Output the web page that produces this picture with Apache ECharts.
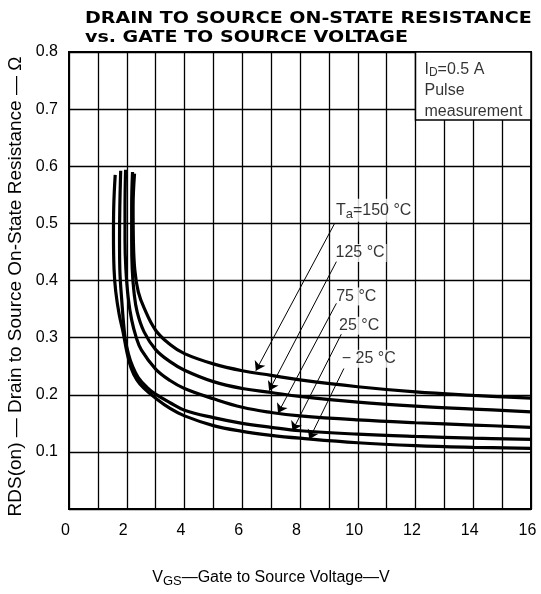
<!DOCTYPE html>
<html><head><meta charset="utf-8">
<script src="https://cdn.jsdelivr.net/npm/echarts@6/dist/echarts.min.js"></script>
<style>html,body{margin:0;padding:0;background:#fff}#c{width:541px;height:594px}</style>
</head><body><div id="c"></div>
<script>
// Curves: [VGS (V), RDS(on) (ohm)]
const curveNeg25 = [[1.60,0.585],[1.55,0.53],[1.54,0.48],[1.56,0.42],[1.62,0.38],[1.74,0.34],[1.88,0.308],[2.0,0.276],[2.15,0.247],[2.35,0.226],[2.6,0.211],[3,0.194],[3.5,0.176],[4,0.163],[5,0.146],[6,0.136],[7,0.129],[8,0.124],[10,0.116],[12,0.111],[14,0.108],[16,0.106]];
const curve25 = [[1.79,0.592],[1.76,0.53],[1.75,0.47],[1.76,0.42],[1.82,0.37],[1.94,0.30],[2.05,0.273],[2.2,0.25],[2.4,0.23],[2.7,0.213],[3,0.201],[3.5,0.186],[4,0.173],[5,0.160],[6,0.150],[7,0.143],[8,0.137],[10,0.131],[12,0.127],[14,0.124],[16,0.122]];
const curve75 = [[1.96,0.594],[1.94,0.53],[1.94,0.47],[1.97,0.42],[2.05,0.37],[2.17,0.331],[2.33,0.3],[2.51,0.278],[3,0.245],[3.5,0.225],[4,0.211],[5,0.193],[6,0.178],[7,0.169],[8,0.163],[10,0.156],[12,0.151],[14,0.147],[16,0.143]];
const curve125 = [[2.20,0.59],[2.17,0.53],[2.17,0.47],[2.19,0.42],[2.25,0.38],[2.36,0.345],[2.6,0.31],[3,0.279],[3.5,0.258],[4,0.243],[5,0.223],[6,0.211],[7,0.204],[8,0.197],[10,0.187],[12,0.180],[14,0.175],[16,0.170]];
const curve150 = [[2.27,0.587],[2.22,0.53],[2.23,0.47],[2.28,0.418],[2.40,0.38],[2.6,0.352],[3,0.313],[3.5,0.288],[4,0.272],[5,0.254],[6,0.242],[7,0.234],[8,0.226],[10,0.214],[12,0.205],[14,0.199],[16,0.194]];

const xTicks = [0,2,4,6,8,10,12,14,16];
const yTicks = [0.1,0.2,0.3,0.4,0.5,0.6,0.7,0.8];

// Annotation labels and arrows (data coordinates)
const labelTexts = ['T{s|a}=150 °C','125 °C','75 °C','25 °C','− 25 °C'];
const labelPos = [[10.55,0.523],[10.08,0.448],[9.95,0.372],[10.05,0.321],[10.38,0.263]];
const arrowFrom = [[9.2,0.50],[9.26,0.433],[9.26,0.36],[9.43,0.306],[9.52,0.246]];
const arrowTo = [[6.47,0.242],[6.93,0.207],[7.24,0.168],[7.74,0.137],[8.32,0.122]];
const boxFrom = [12,0.8], boxTo = [16,0.681];
const boxText = '{n|I}{s|D}{n|=0.5 A}\n{n|Pulse}\n{n|measurement}';
const titleLines = ['DRAIN TO SOURCE ON-STATE RESISTANCE','vs. GATE TO SOURCE VOLTAGE'];

const FONT = 'Liberation Sans';
const chart = echarts.init(document.getElementById('c'));
const curveStyle = {color:'#000', width:3.2};
function curve(d){return {type:'line', data:d, showSymbol:false, smooth:0.4, lineStyle:curveStyle, itemStyle:{color:'#000'}, silent:true, z:3};}

chart.setOption({
  animation:false,
  backgroundColor:'#fff',
  graphic:[
    {type:'text', left:85, top:11, scaleX:1.19, style:{text:titleLines[0], font:'bold 16px "DejaVu Sans"', fill:'#000'}},
    {type:'text', left:85, top:30, scaleX:1.19, style:{text:titleLines[1], font:'bold 16px "DejaVu Sans"', fill:'#000'}}
  ],
  grid:{left:69, right:10, top:52, bottom:85, show:true, borderColor:'#000', borderWidth:2,
    containLabel:false, outerBoundsMode:'none'},
  xAxis:{type:'value', min:0, max:16, interval:1,
    axisLine:{show:false}, axisTick:{show:false},
    splitLine:{show:true, lineStyle:{color:'#000', width:1.3}},
    axisLabel:{margin:14, fontFamily:FONT, fontSize:16, color:'#000', padding:[0,7,0,0],
      formatter:v => xTicks.indexOf(v) >= 0 ? String(v) : ''},
    name:'V{s|GS}—Gate to Source Voltage—V', nameLocation:'middle', nameGap:59,
    nameTextStyle:{fontFamily:FONT, fontSize:16, color:'#000', padding:[0,58,0,0],
      rich:{s:{fontSize:13, padding:[7,0,0,0], fontFamily:FONT}}}},
  yAxis:{type:'value', min:0, max:0.8, interval:0.1,
    axisLine:{show:false}, axisTick:{show:false},
    splitLine:{show:true, lineStyle:{color:'#000', width:1.3}},
    axisLabel:{margin:11, fontFamily:FONT, fontSize:16, color:'#000', padding:[4,0,0,0],
      formatter:v => { const t = yTicks.find(y => Math.abs(y-v)<1e-6); return t===undefined ? '' : t.toFixed(1); }},
    name:'RDS(on) — Drain to Source On-State Resistance — Ω', nameLocation:'middle', nameGap:42, nameRotate:90,
    nameTextStyle:{fontFamily:FONT, fontSize:19, color:'#000', padding:[0,12,0,0]}},
  series:[
    curve(curveNeg25), curve(curve25), curve(curve75), curve(curve125), curve(curve150),
    {type:'line', data:[], silent:true, z:2,
      markLine:{silent:true, symbol:['none','arrow'], symbolSize:9, animation:false,
        label:{show:false}, lineStyle:{color:'#000', width:1, type:'solid'},
        itemStyle:{color:'#000'},
        data: arrowFrom.map((f,i) => [{coord:f},{coord:arrowTo[i]}])},
      markArea:{silent:true, itemStyle:{color:'#fff', borderColor:'#000', borderWidth:1.5},
        label:{show:false},
        data:[[{coord:boxFrom},{coord:boxTo}]]}},
    {type:'scatter', symbolSize:0, silent:true, z:4,
      data: labelPos.map((p,i) => ({value:p, label:{formatter:labelTexts[i]}})),
      label:{show:true, position:'inside', backgroundColor:'#fff', padding:[1,2],
        fontFamily:FONT, fontSize:16, color:'#000',
        rich:{s:{fontFamily:FONT, fontSize:13, color:'#000', padding:[8,0,0,0]}}}},
    {type:'scatter', symbolSize:0, silent:true, z:5,
      data:[boxFrom],
      label:{show:true, position:'inside', align:'left', verticalAlign:'top', offset:[9,7], formatter:boxText,
        rich:{n:{fontFamily:FONT, fontSize:16, color:'#000', lineHeight:21},
              s:{fontFamily:FONT, fontSize:12, color:'#000', lineHeight:21, padding:[7,0,0,0]}}}}
  ]
});
</script></body></html>
